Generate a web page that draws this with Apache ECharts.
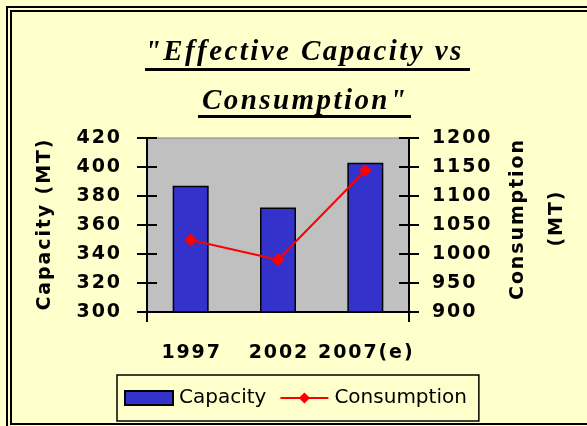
<!DOCTYPE html>
<html>
<head>
<meta charset="utf-8">
<script src="https://cdn.jsdelivr.net/npm/echarts@6/dist/echarts.min.js"></script>
<style>
  html, body { margin: 0; padding: 0; background: #FFFFCC; }
  #chart { width: 587px; height: 426px; }
</style>
</head>
<body>
<div id="chart"></div>
<script>
// chart data
const years = ['1997', '2002', '2007(e)'];
const capacity = [387, 372, 403];
const consumption = [1024, 990, 1144];
const capacityTicks = [300, 420, 20];     // min, max, step
const consumptionTicks = [900, 1200, 50]; // min, max, step

// old excel export has loose letter spacing, fake it with hair spaces
const spaced = s => String(s).split('').join('\u200a');

const numFont = { color: '#000', fontFamily: 'DejaVu Sans', fontWeight: 'bold', fontSize: 19 };

const chart = echarts.init(document.getElementById('chart'));

let option = {
  backgroundColor: '#FFFFCC',
  animation: false,
  grid: {
    left: 147,
    right: 178,
    top: 138,
    bottom: 114,
    show: true,
    backgroundColor: '#C0C0C0',
    borderColor: '#808080',
    borderWidth: 1
  },
  legend: {
    left: 117,
    top: 375,
    padding: [13, 12, 13, 7],
    itemWidth: 48,
    itemHeight: 14,
    itemGap: 13,
    borderColor: '#000',
    borderWidth: 1.5,
    backgroundColor: '#FFFFCC',
    textStyle: { color: '#000', fontFamily: 'DejaVu Sans', fontSize: 20, padding: [0, 0, 0, 1] },
    data: [{ name: 'Capacity', icon: 'rect' }, 'Consumption']
  },
  xAxis: {
    type: 'category',
    data: years,
    boundaryGap: true,
    axisLine: { lineStyle: { color: '#000', width: 2 } },
    axisTick: { inside: true, length: 10, lineStyle: { color: '#000', width: 2 } },
    axisLabel: Object.assign({ margin: 32, interval: 0, formatter: spaced }, numFont),
    splitLine: { show: false }
  },
  yAxis: [
    {
      type: 'value',
      position: 'left',
      min: capacityTicks[0],
      max: capacityTicks[1],
      interval: capacityTicks[2],
      axisLine: { show: true, lineStyle: { color: '#000', width: 2 } },
      axisTick: { show: true, length: 10, lineStyle: { color: '#000', width: 2 } },
      axisLabel: Object.assign({ margin: 27, formatter: spaced }, numFont),
      splitLine: { show: false }
    },
    {
      type: 'value',
      position: 'left',
      min: capacityTicks[0],
      max: capacityTicks[1],
      interval: capacityTicks[2],
      axisLine: { show: false },
      axisTick: { show: true, inside: true, length: 10, lineStyle: { color: '#000', width: 2 } },
      axisLabel: { show: false },
      splitLine: { show: false }
    },
    {
      type: 'value',
      position: 'right',
      min: consumptionTicks[0],
      max: consumptionTicks[1],
      interval: consumptionTicks[2],
      axisLine: { show: true, lineStyle: { color: '#000', width: 2 } },
      axisTick: { show: true, length: 10, lineStyle: { color: '#000', width: 2 } },
      axisLabel: Object.assign({ margin: 23, formatter: spaced }, numFont),
      splitLine: { show: false }
    },
    {
      type: 'value',
      position: 'right',
      min: consumptionTicks[0],
      max: consumptionTicks[1],
      interval: consumptionTicks[2],
      axisLine: { show: false },
      axisTick: { show: true, inside: true, length: 10, lineStyle: { color: '#000', width: 2 } },
      axisLabel: { show: false },
      splitLine: { show: false }
    }
  ],
  series: [
    {
      name: 'Capacity',
      type: 'bar',
      yAxisIndex: 0,
      barWidth: 36,
      data: capacity,
      itemStyle: { color: '#3333CC', borderColor: '#000', borderWidth: 1.5 }
    },
    {
      name: 'Consumption',
      type: 'line',
      yAxisIndex: 2,
      data: consumption,
      symbol: 'diamond',
      symbolSize: 13,
      lineStyle: { color: '#FF0000', width: 2 },
      itemStyle: { color: '#FF0000' }
    }
  ],
  graphic: [
    // double frame
    { type: 'rect', shape: { x: 7, y: 7, width: 640, height: 440 }, style: { fill: null, stroke: '#000', lineWidth: 2 }, silent: true },
    { type: 'rect', shape: { x: 11, y: 11, width: 630, height: 413 }, style: { fill: null, stroke: '#000', lineWidth: 2 }, silent: true },
    // value axes poke out under the category axis
    { type: 'line', shape: { x1: 147, y1: 312, x2: 147, y2: 322 }, style: { stroke: '#000', lineWidth: 2 } },
    { type: 'line', shape: { x1: 409, y1: 312, x2: 409, y2: 322 }, style: { stroke: '#000', lineWidth: 2 } },
    // title
    { type: 'text', x: 303, y: 53, style: { text: spaced('"Effective Capacity vs'), fill: '#000', font: 'italic bold 29px "Liberation Serif"', textAlign: 'center', textVerticalAlign: 'middle' } },
    { type: 'rect', shape: { x: 145, y: 68, width: 325, height: 3 }, style: { fill: '#000' } },
    { type: 'text', x: 304, y: 102, style: { text: spaced('Consumption"'), fill: '#000', font: 'italic bold 29px "Liberation Serif"', textAlign: 'center', textVerticalAlign: 'middle' } },
    { type: 'rect', shape: { x: 198, y: 115, width: 213, height: 3 }, style: { fill: '#000' } },
    // axis names
    { type: 'text', x: 45, y: 225, rotation: Math.PI / 2, style: { text: spaced('Capacity (MT)'), fill: '#000', font: 'bold 19px "DejaVu Sans"', textAlign: 'center', textVerticalAlign: 'middle' } },
    { type: 'text', x: 518, y: 220, rotation: Math.PI / 2, style: { text: spaced('Consumption'), fill: '#000', font: 'bold 19px "DejaVu Sans"', textAlign: 'center', textVerticalAlign: 'middle' } },
    { type: 'text', x: 557, y: 219, rotation: Math.PI / 2, style: { text: spaced('(MT)'), fill: '#000', font: 'bold 19px "DejaVu Sans"', textAlign: 'center', textVerticalAlign: 'middle' } }
  ]
};

chart.setOption(option);
</script>
</body>
</html>
